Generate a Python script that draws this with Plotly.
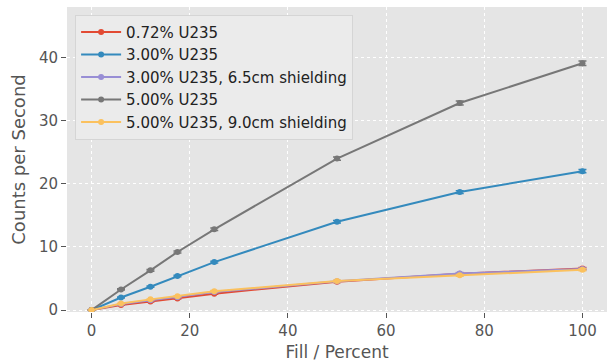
import plotly.graph_objects as go

fill = [0, 6, 12, 17.5, 25, 50, 75, 100]

names = ["0.72% U235", "3.00% U235", "3.00% U235, 6.5cm shielding",
         "5.00% U235", "5.00% U235, 9.0cm shielding"]
colors = ["#E24A33", "#348ABD", "#988ED5", "#777777", "#FBC15E"]

cps_072 = [0, 0.8, 1.35, 1.85, 2.6, 4.5, 5.75, 6.6]
cps_300 = [0, 2.0, 3.7, 5.4, 7.6, 14.0, 18.7, 22.0]
cps_300s = [0, 0.95, 1.55, 2.05, 2.85, 4.55, 5.8, 6.5]
cps_500 = [0, 3.27, 6.3, 9.2, 12.8, 24.0, 32.8, 39.1]
cps_500s = [0, 1.05, 1.7, 2.2, 3.0, 4.6, 5.5, 6.4]

err_072 = [0, 0.05, 0.07, 0.08, 0.1, 0.12, 0.14, 0.15]
err_300 = [0, 0.08, 0.1, 0.12, 0.15, 0.2, 0.22, 0.25]
err_300s = [0, 0.05, 0.07, 0.08, 0.1, 0.12, 0.14, 0.15]
err_500 = [0, 0.1, 0.14, 0.17, 0.2, 0.25, 0.3, 0.35]
err_500s = [0, 0.05, 0.07, 0.08, 0.1, 0.12, 0.14, 0.15]

series = [cps_072, cps_300, cps_300s, cps_500, cps_500s]
errors = [err_072, err_300, err_300s, err_500, err_500s]

fig = go.Figure()
for n, c, y, e in zip(names, colors, series, errors):
    fig.add_trace(go.Scatter(
        x=fill, y=y, name=n, mode="lines+markers",
        line=dict(color=c, width=2),
        marker=dict(color=c, size=6),
        error_y=dict(type="data", array=e, visible=True, color=c,
                     thickness=1.5, width=4),
    ))

font = "DejaVu Sans, sans-serif"
fig.update_layout(
    width=608, height=362,
    margin=dict(l=67, r=1, t=7, b=50),
    paper_bgcolor="white",
    plot_bgcolor="#E5E5E5",
    font=dict(family=font, color="#555555", size=15),
    showlegend=True,
    legend=dict(
        x=0.015, y=0.975, xanchor="left", yanchor="top",
        bgcolor="#EBEBEB", bordercolor="#D5D5D5", borderwidth=1,
        font=dict(family=font, size=15, color="#222222"),
        tracegroupgap=0, itemwidth=40,
    ),
    xaxis=dict(
        range=[-5, 105], tickvals=[0, 20, 40, 60, 80, 100],
        showgrid=True, gridcolor="white", griddash="dot", gridwidth=1,
        zeroline=False, ticks="outside", ticklen=5, tickcolor="#555555",
        tickfont=dict(size=15, color="#555555"),
        title=dict(text="Fill / Percent", font=dict(size=17, color="#555555"), standoff=8),
        showline=False,
    ),
    yaxis=dict(
        range=[-0.3, 48], tickvals=[0, 10, 20, 30, 40],
        showgrid=True, gridcolor="white", griddash="dot", gridwidth=1,
        zeroline=False, ticks="outside", ticklen=5, tickcolor="#555555",
        tickfont=dict(size=15, color="#555555"),
        title=dict(text="Counts per Second", font=dict(size=18, color="#555555"), standoff=8),
        showline=False,
    ),
)

fig.write_html("out.html")
